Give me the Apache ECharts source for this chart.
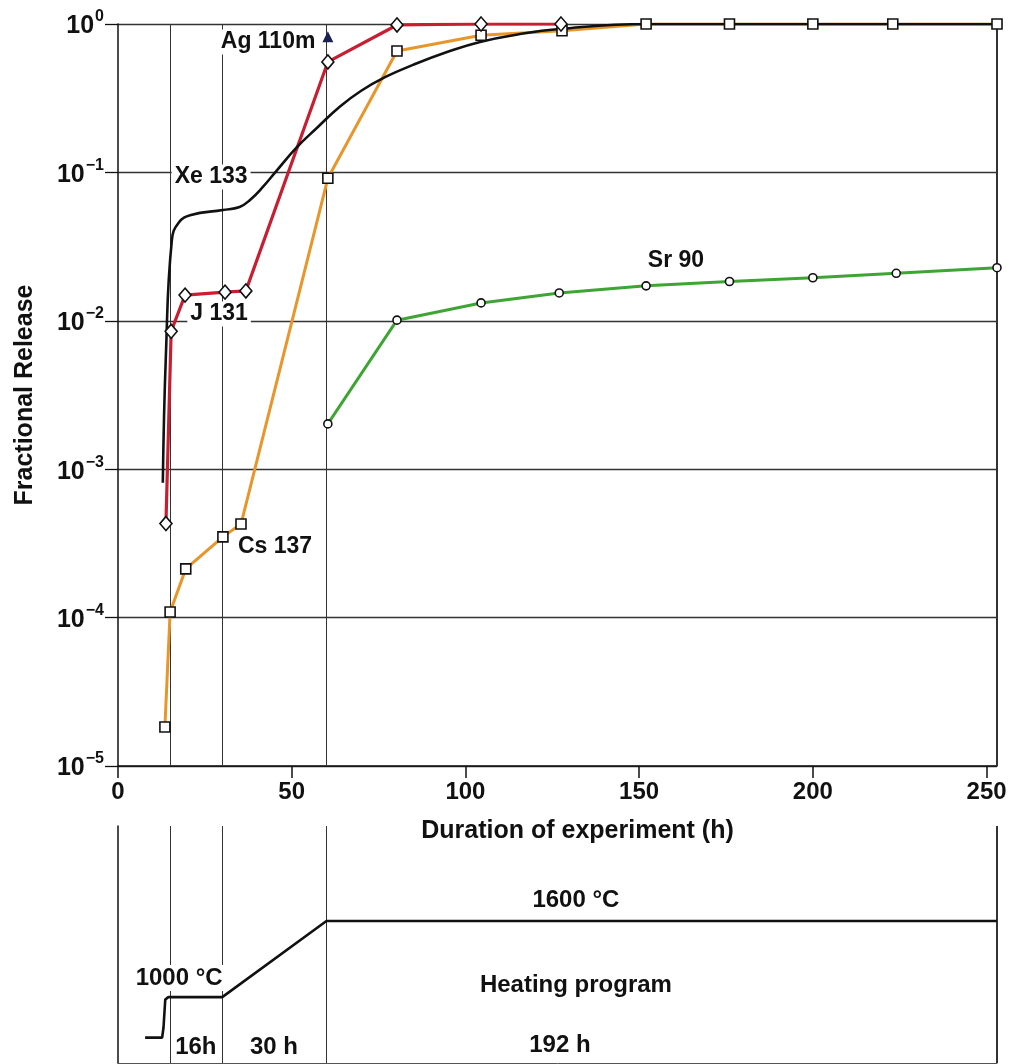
<!DOCTYPE html>
<html><head><meta charset="utf-8">
<script src="https://cdn.jsdelivr.net/npm/echarts@6/dist/echarts.min.js"></script>
<style>html,body{margin:0;padding:0;background:#fff}#c{width:1019px;height:1064px}</style>
</head><body><div id="c"></div>
<script>
// ---------- data ----------
const xTicks = [0, 50, 100, 150, 200, 250];
const phaseBounds = [15, 30, 60, 253];

const j131Hours  = [13.8, 15.3, 19.3, 30.8, 36.8, 60.4, 80.3, 104.5, 127.5];
const j131Values = [4.3e-4, 8.5e-3, 0.0149, 0.0156, 0.0159, 0.555, 0.985, 1.0, 1.0];

const cs137Hours  = [13.5, 15.0, 19.5, 30.2, 35.4, 60.4, 80.3, 104.5, 127.8, 152, 176, 200, 223, 253];
const cs137Values = [1.83e-5, 1.09e-4, 2.13e-4, 3.5e-4, 4.27e-4, 0.0913, 0.658, 0.84, 0.90, 1.0, 1.0, 1.0, 1.0, 1.0];

const sr90Hours  = [60.4, 80.3, 104.5, 127, 152, 176, 200, 224, 253];
const sr90Values = [2.02e-3, 0.0101, 0.0132, 0.0154, 0.0172, 0.0184, 0.0195, 0.0209, 0.0228];

const xe133Hours  = [12.9, 13.8, 15.5, 17.5, 21, 30.2, 35.0, 38, 41.7, 45.8, 51.5, 57.3, 63.9, 70, 77, 84.9, 94.7, 104.2, 115, 127, 152, 253];
const xe133Values = [8.1e-4, 6.0e-3, 0.035, 0.046, 0.0516, 0.0558, 0.0585, 0.0652, 0.0798, 0.1037, 0.148, 0.2, 0.278, 0.355, 0.44, 0.53, 0.647, 0.757, 0.85, 0.925, 1.0, 1.0];

const ag110mHours  = [60.4];
const ag110mValues = [0.82];

const heatHours = [7.8, 12.7, 13.1, 13.6, 14.5, 30, 60, 253];
const heatTemps = [680, 680, 760, 980, 1000, 1000, 1600, 1600];

// annotations
const seriesLabels = ['Xe 133', 'J 131', 'Cs 137', 'Sr 90', 'Ag 110m'];
const seriesLabelHours = [26.8, 29.1, 45.2, 160.6, 43.2];
const seriesLabelValues = [0.093, 0.0111, 2.99e-4, 0.0253, 0.756];

const heatLabels = ['1000 °C', '16h', '30 h', '1600 °C', 'Heating program', '192 h'];
const heatLabelHours = [17.6, 22.4, 44.9, 131.8, 131.8, 127.2];
const heatLabelTemps = [1150, 605, 605, 1766, 1095, 621];

// ---------- build ----------
const zip = (a, b) => a.map((v, i) => [v, b[i]]);
const FONT = 'Liberation Sans, Arial, Helvetica, sans-serif';
const INK = '#111';

const marker = (sym, size) => ({
  symbol: sym, symbolSize: size,
  itemStyle: { color: '#fff', borderColor: INK, borderWidth: 1.6, opacity: 1 }
});

const lineSeries = (name, hours, vals, color, width, z, extra) => Object.assign({
  name, type: 'line', xAxisIndex: 0, yAxisIndex: 0,
  data: zip(hours, vals), showSymbol: false, symbol: 'none',
  lineStyle: { color, width }, z, silent: true
}, extra || {});

const markerSeries = (hours, vals, m) => Object.assign({
  type: 'scatter', xAxisIndex: 0, yAxisIndex: 0, data: zip(hours, vals), z: 10, silent: true
}, m);

const textSeries = (xi, yi, names, hs, vs, size) => ({
  type: 'scatter', xAxisIndex: xi, yAxisIndex: yi, symbolSize: 0, z: 3, silent: true,
  itemStyle: { opacity: 1 },
  data: names.map((n, i) => ({ name: n, value: [hs[i], vs[i]] })),
  label: {
    show: true, position: 'inside', formatter: p => p.name,
    fontFamily: FONT, fontWeight: 'bold', fontSize: size, color: INK, opacity: 1,
    backgroundColor: '#fff', padding: [1, 3]
  }
});

const vLines = (vals, widths) => ({
  silent: true, symbol: ['none', 'none'], z: 1,
  label: { show: false },
  data: vals.map((v, i) => ({ xAxis: v, lineStyle: { color: '#333', width: widths[i], type: 'solid' } }))
});

const supMinus = n => n === 0 ? '0' : '\u2212' + (-n);

const option = {
  animation: false,
  backgroundColor: '#fff',
  grid: [
    { left: 118, right: 22, top: 24, bottom: 298 },
    { left: 118, right: 22, top: 826, bottom: 1 }
  ],
  xAxis: [
    {
      gridIndex: 0, type: 'value', min: 0, max: 253,
      axisLine: { show: true, lineStyle: { color: INK, width: 1.5 } },
      axisTick: { show: true, customValues: xTicks, length: 12, lineStyle: { color: INK, width: 1.5 } },
      axisLabel: { customValues: xTicks, fontFamily: FONT, fontWeight: 'bold', fontSize: 24, color: INK, margin: 14 },
      splitLine: { show: false },
      name: 'Duration of experiment (h)', nameLocation: 'middle', nameGap: 53,
      nameTextStyle: { fontFamily: FONT, fontWeight: 'bold', fontSize: 25, color: INK, padding: [0, 0, 0, 40] }
    },
    {
      gridIndex: 1, type: 'value', min: 0, max: 253,
      axisLine: { show: true, lineStyle: { color: '#555', width: 1 } },
      axisTick: { show: false }, axisLabel: { show: false }, splitLine: { show: false }
    }
  ],
  yAxis: [
    {
      gridIndex: 0, type: 'log', logBase: 10, min: 1e-5, max: 1,
      axisLine: { show: true, lineStyle: { color: INK, width: 1.5 } },
      axisTick: { show: true, length: 13, lineStyle: { color: INK, width: 1.3 } },
      splitLine: { show: true, lineStyle: { color: '#333', width: 1.3 } },
      minorTick: { show: false }, minorSplitLine: { show: false },
      axisLabel: {
        margin: 14, color: INK,
        formatter: v => '{b|10}{s|' + supMinus(Math.round(Math.log10(v))) + '}',
        rich: {
          b: { fontFamily: FONT, fontWeight: 'bold', fontSize: 25, color: INK, lineHeight: 30, verticalAlign: 'bottom' },
          s: { fontFamily: FONT, fontWeight: 'bold', fontSize: 16, color: INK, lineHeight: 30, verticalAlign: 'top', padding: [0, 0, 10, 1] }
        }
      },
      name: 'Fractional Release', nameLocation: 'middle', nameGap: 80,
      nameTextStyle: { fontFamily: FONT, fontWeight: 'bold', fontSize: 25, color: INK }
    },
    {
      gridIndex: 1, type: 'value', min: 480, max: 2350,
      axisLine: { show: true, lineStyle: { color: INK, width: 1.5 } },
      axisTick: { show: false }, axisLabel: { show: false }, splitLine: { show: false }
    }
  ],
  series: [
    lineSeries('Cs 137', cs137Hours, cs137Values, '#e8962a', 3, 4, {
      markLine: vLines(phaseBounds, [1, 1, 1, 2])
    }),
    lineSeries('J 131', j131Hours, j131Values, '#c81e32', 3.2, 4),
    lineSeries('Sr 90', sr90Hours, sr90Values, '#3ea535', 3, 4),
    lineSeries('Xe 133', xe133Hours, xe133Values, '#111', 2.6, 5, { smooth: 0.45 }),
    markerSeries(cs137Hours, cs137Values, marker('rect', 10)),
    markerSeries(j131Hours, j131Values, marker('diamond', [12, 14])),
    markerSeries(sr90Hours, sr90Values, marker('circle', 8)),
    markerSeries(ag110mHours, ag110mValues, { symbol: 'triangle', symbolSize: 11, itemStyle: { color: '#1b2150', opacity: 1 } }),
    textSeries(0, 0, seriesLabels, seriesLabelHours, seriesLabelValues, 23),
    {
      name: 'Heating program', type: 'line', xAxisIndex: 1, yAxisIndex: 1,
      data: zip(heatHours, heatTemps), showSymbol: false, symbol: 'none', z: 5, silent: true,
      lineStyle: { color: INK, width: 2.6 },
      markLine: vLines(phaseBounds, [1, 1, 1, 2])
    },
    textSeries(1, 1, heatLabels, heatLabelHours, heatLabelTemps, 24)
  ]
};

const chart = echarts.init(document.getElementById('c'), null, { renderer: 'canvas' });
chart.setOption(option);
</script>
</body></html>
